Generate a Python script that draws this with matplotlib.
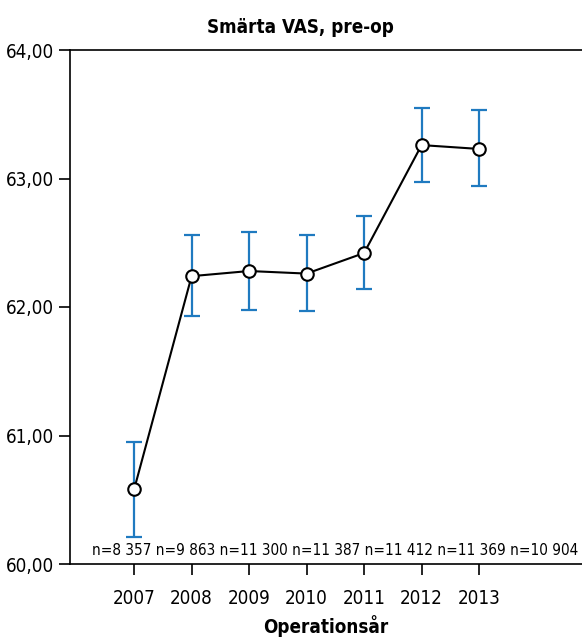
import matplotlib
matplotlib.use("Agg")
import matplotlib.pyplot as plt
from matplotlib.ticker import FuncFormatter

plt.rcParams["font.family"] = ["DejaVu Sans"]
plt.rcParams["font.stretch"] = "condensed"

years = ["2007", "2008", "2009", "2010", "2011", "2012", "2013"]
means = [60.58, 62.24, 62.28, 62.26, 62.42, 63.26, 63.23]
lower = [60.21, 61.93, 61.98, 61.97, 62.14, 62.97, 62.94]
upper = [60.95, 62.56, 62.58, 62.56, 62.71, 63.55, 63.53]
counts = ["n=8 357", "n=9 863", "n=11 300", "n=11 387", "n=11 412", "n=11 369", "n=10 904"]

x = list(range(len(years)))
yerr = [[m - l for m, l in zip(means, lower)], [u - m for m, u in zip(means, upper)]]

fig = plt.figure(figsize=(5.82, 6.39), dpi=100)
ax = fig.add_axes([70 / 582, 75 / 639, 512 / 582, 514 / 639])

ax.errorbar(x, means, yerr=yerr, fmt="none", ecolor="#1f7ac0", elinewidth=1.6,
            capsize=6, capthick=1.6, zorder=2)
ax.plot(x, means, color="black", lw=1.5, marker="o", ms=9, mfc="white",
        mec="black", mew=1.5, zorder=3)

ax.set_xlim(-1.115, 7.79)
ax.set_ylim(60, 64)
ax.set_yticks([60, 61, 62, 63, 64])
ax.yaxis.set_major_formatter(FuncFormatter(lambda v, p: f"{v:.2f}".replace(".", ",")))
ax.set_xticks(x)
ax.set_xticklabels(years)
ax.tick_params(axis="both", labelsize=13.5, length=8, width=1.2, direction="out")
ax.tick_params(axis="x", pad=10)

for s in ["left", "bottom", "top"]:
    ax.spines[s].set_linewidth(1.2)
ax.spines["right"].set_visible(False)

ax.text(-0.73, 60.05, " ".join(counts), ha="left", va="bottom", fontsize=11)

ax.set_title("Smärta VAS, pre-op", fontsize=13.5, fontweight="bold", pad=12, x=0.45)
ax.set_xlabel("Operationsår", fontsize=13.5, fontweight="bold", labelpad=5)

fig.savefig("out.png", dpi=100)
